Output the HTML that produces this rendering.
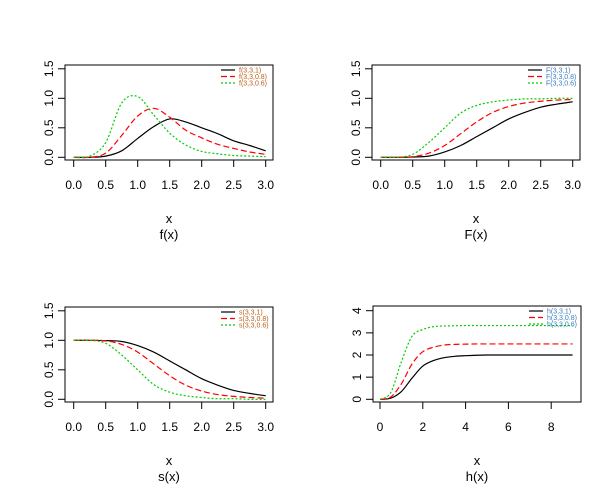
<!DOCTYPE html>
<html><head><meta charset="utf-8"><style>
body{margin:0;background:#fff}
svg{display:block;font-family:"Liberation Sans",Arial,sans-serif}
</style></head><body>
<svg id="chart" width="614" height="484" viewBox="0 0 614 484"></svg>
<script>
const xs3 = [0,0.25,0.5,0.75,1.0,1.25,1.5,1.75,2.0,2.25,2.5,2.75,3.0];
const fBlack = [0,0,0.02,0.11,0.32,0.52,0.65,0.6,0.5,0.4,0.28,0.2,0.11];
const fRed = [0,0,0.07,0.37,0.7,0.83,0.68,0.46,0.33,0.22,0.15,0.09,0.05];
const fGreen = [0,0.02,0.25,0.92,1.03,0.72,0.41,0.21,0.1,0.06,0.03,0.02,0.01];
const FBlack = [0,0,0.005,0.02,0.09,0.2,0.35,0.5,0.65,0.76,0.85,0.9,0.94];
const FRed = [0,0,0.01,0.07,0.2,0.4,0.6,0.76,0.86,0.92,0.95,0.97,0.98];
const FGreen = [0,0,0.05,0.25,0.5,0.75,0.88,0.94,0.97,0.99,0.99,1,1];
const sBlack = [1,1,0.995,0.98,0.91,0.8,0.65,0.5,0.35,0.24,0.15,0.1,0.06];
const sRed = [1,1,0.99,0.93,0.8,0.6,0.4,0.24,0.14,0.08,0.05,0.03,0.02];
const sGreen = [1,1,0.95,0.75,0.5,0.25,0.12,0.06,0.03,0.01,0.01,0,0];
const xs9 = [0,0.5,1,1.5,2,2.5,3,3.5,4,4.5,5,5.5,6,6.5,7,7.5,8,8.5,9];
const hBlack = [0,0.05,0.35,0.96,1.5,1.75,1.88,1.94,1.97,1.99,2,2,2,2,2,2,2,2,2];
const hRed = [0,0.1,0.7,1.6,2.15,2.35,2.45,2.48,2.49,2.5,2.5,2.5,2.5,2.5,2.5,2.5,2.5,2.5,2.5];
const hGreen = [0,0.3,1.7,2.85,3.15,3.28,3.31,3.32,3.33,3.33,3.33,3.33,3.33,3.33,3.33,3.33,3.33,3.33,3.33];
const ticks3 = [0,0.5,1,1.5,2,2.5,3];
const ticksY = [0,0.5,1,1.5];
const ticks9 = [0,2,4,6,8];
const ticksH = [0,1,2,3,4];

const NS="http://www.w3.org/2000/svg";
const svg=document.getElementById('chart');
function mk(tag,attrs,parent){const e=document.createElementNS(NS,tag);for(const k in attrs)e.setAttribute(k,attrs[k]);(parent||svg).appendChild(e);return e;}
function smoothPath(pts){
  let d='M'+pts[0][0]+','+pts[0][1];
  for(let i=0;i<pts.length-1;i++){
    const p0=pts[Math.max(0,i-1)],p1=pts[i],p2=pts[i+1],p3=pts[Math.min(pts.length-1,i+2)];
    const c1x=p1[0]+(p2[0]-p0[0])/6,c1y=p1[1]+(p2[1]-p0[1])/6;
    const c2x=p2[0]-(p3[0]-p1[0])/6,c2y=p2[1]-(p3[1]-p1[1])/6;
    d+=` C${c1x},${c1y} ${c2x},${c2y} ${p2[0]},${p2[1]}`;
  }
  return d;
}
function panel(o){
  const g=mk('g',{});
  
  
  const L=o.left,R=o.right,T=o.top,B=o.bottom;
  const sx=v=>o.x0px+(v-o.xmin)*o.xppu;
  const sy=v=>o.y0px-(v-o.ymin)*o.yppu;
  const box=mk('rect',{x:L,y:T,width:R-L,height:B-T,fill:'none',stroke:'#000','stroke-width':1},g);
  
  
  const xa=mk('g',{},g);
  
  
  mk('line',{x1:sx(o.xt[0]),x2:sx(o.xt[o.xt.length-1]),y1:B,y2:B,stroke:'#000'},xa);
  o.xt.forEach(t=>{
    mk('line',{x1:sx(t),x2:sx(t),y1:B,y2:B+7,stroke:'#000'},xa);
    const tx=mk('text',{x:sx(t),y:B+29,'text-anchor':'middle','font-size':12,fill:'#000'},xa);
    tx.textContent=o.xfmt(t);
    
    
  });
  const ya=mk('g',{},g);
  
  
  mk('line',{x1:L,x2:L,y1:sy(o.yt[0]),y2:sy(o.yt[o.yt.length-1]),stroke:'#000'},ya);
  o.yt.forEach(t=>{
    mk('line',{x1:L,x2:L-7,y1:sy(t),y2:sy(t),stroke:'#000'},ya);
    const tx=mk('text',{x:L-12,y:sy(t),'text-anchor':'middle','font-size':12,fill:'#000',transform:`rotate(-90 ${L-12} ${sy(t)})`},ya);
    tx.textContent=o.yfmt(t);
    
    
  });
  const xl=mk('text',{x:(L+R)/2,y:B+63,'text-anchor':'middle','font-size':13},g);
  xl.textContent='x';
  
  
  const ti=mk('text',{x:(L+R)/2,y:B+79,'text-anchor':'middle','font-size':13},g);
  ti.textContent=o.title;
  
  
  const styles=[{c:'#000',d:''},{c:'#ff0000',d:'6,3'},{c:'#00cd00',d:'2,2'}];
  o.series.forEach((s,i)=>{
    const pts=o.xs.map((x,j)=>[sx(x),sy(s[j])]);
    const p=mk('path',{d:smoothPath(pts),fill:'none',stroke:styles[i].c,'stroke-width':1.2,'stroke-dasharray':styles[i].d},g);
    
    
  });
  const lg=mk('g',{},g);
  
  
  o.labels.forEach((lab,i)=>{
    const y=T+5+i*6.5;
    mk('line',{x1:R-52,x2:R-38,y1:y,y2:y,stroke:styles[i].c,'stroke-width':1.2,'stroke-dasharray':styles[i].d},lg);
    const t=mk('text',{x:R-34,y:y+2.5,'font-size':7,fill:o.legColor},lg);
    t.textContent=lab;
    
    
  });
}
const f1=v=>v.toFixed(1), f0=v=>String(v);
const base={xmin:0,ymin:0,xs:xs3,xt:ticks3,yt:ticksY,xfmt:f1,yfmt:f1,xppu:64,yppu:59};
panel(Object.assign({},base,{name:'pdf',left:65,right:273,top:65,bottom:160,x0px:73.7,y0px:157.3,title:'f(x)',series:[fBlack,fRed,fGreen],labels:['f(3,3,1)','f(3,3,0.8)','f(3,3,0.6)'],legColor:'#b8601c'}));
panel(Object.assign({},base,{name:'cdf',left:372,right:580,top:65,bottom:160,x0px:380.7,y0px:157.3,title:'F(x)',series:[FBlack,FRed,FGreen],labels:['F(3,3,1)','F(3,3,0.8)','F(3,3,0.6)'],legColor:'#3a7cc0'}));
panel(Object.assign({},base,{name:'survival',left:65,right:273,top:307,bottom:402,x0px:73.7,y0px:399.3,title:'s(x)',series:[sBlack,sRed,sGreen],labels:['s(3,3,1)','s(3,3,0.8)','s(3,3,0.6)'],legColor:'#b8601c'}));
panel({name:'hazard',xmin:0,ymin:0,xs:xs9,xt:ticks9,yt:ticksH,xfmt:f0,yfmt:f0,xppu:21.4,yppu:22.15,left:373,right:581,top:306,bottom:402,x0px:380,y0px:399.3,title:'h(x)',series:[hBlack,hRed,hGreen],labels:['h(3,3,1)','h(3,3,0.8)','h(3,3,0.6)'],legColor:'#3a7cc0'});
</script>
</body></html>
